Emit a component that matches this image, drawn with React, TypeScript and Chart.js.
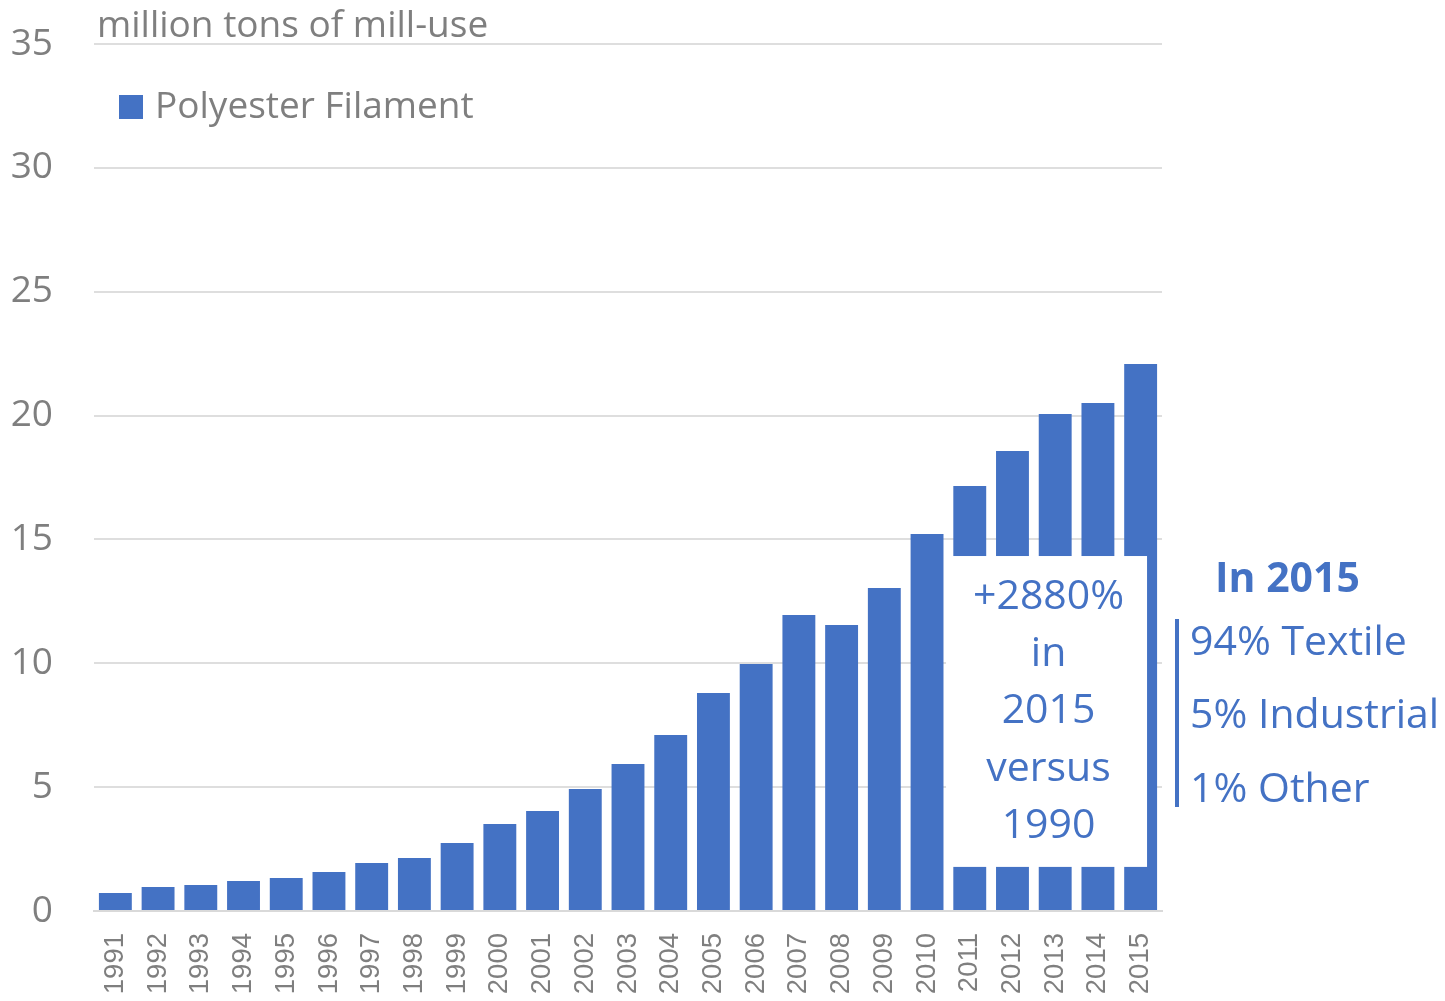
import React, { useEffect, useRef } from "react";
import { Chart, registerables } from "chart.js";

Chart.register(...registerables);

const years = [
  "1991", "1992", "1993", "1994", "1995", "1996", "1997", "1998", "1999", "2000",
  "2001", "2002", "2003", "2004", "2005", "2006", "2007", "2008", "2009", "2010",
  "2011", "2012", "2013", "2014", "2015",
];
const filamentValues = [
  0.73, 0.97, 1.05, 1.21, 1.33, 1.57, 1.94, 2.14, 2.75, 3.51,
  4.04, 4.93, 5.93, 7.1, 8.8, 9.97, 11.95, 11.55, 13.04, 15.22,
  17.16, 18.57, 20.06, 20.51, 22.08,
];
const yTickValues = [0, 5, 10, 15, 20, 25, 30, 35];
const seriesName = "Polyester Filament";
const unitLabel = "million tons of mill-use";
const boxLines = ["+2880%", "in", "2015", "versus", "1990"];
const sideTitle = "In 2015";
const sideLines = ["94% Textile", "5% Industrial", "1% Other"];
// callout box extent in axis units (category index / value)
const boxXFrom = 19.445;
const boxXTo = 24.15;
const boxYFrom = 1.78;
const boxYTo = 14.33;

const BLUE = "#4472c4";
const GRAY = "#7f7f7f";
const FONT = "'Open Sans', sans-serif";

const overlayPlugin = {
  id: "overlay",
  afterDatasetsDraw(chart: any) {
    const { ctx, chartArea, scales } = chart;
    const xs = scales.x;
    const ys = scales.y;
    const left = xs.getPixelForValue(boxXFrom);
    const right = xs.getPixelForValue(boxXTo);
    const top = ys.getPixelForValue(boxYTo);
    const bottom = ys.getPixelForValue(boxYFrom);
    ctx.save();
    ctx.fillStyle = "#ffffff";
    ctx.fillRect(left, top, right - left, bottom - top);
    ctx.fillStyle = BLUE;
    ctx.font = `41px ${FONT}`;
    ctx.textAlign = "center";
    ctx.textBaseline = "middle";
    const cx = (left + right) / 2 + 2;
    boxLines.forEach((t, i) => {
      ctx.fillText(t, cx, top + 41 + i * 57.3);
    });

    // side annotation
    const ax = chartArea.right;
    ctx.textAlign = "left";
    ctx.font = `bold 41px ${FONT}`;
    ctx.fillText(sideTitle, ax + 53, 580);
    ctx.font = `41px ${FONT}`;
    const ly = [643, 716, 790];
    sideLines.forEach((t, i) => ctx.fillText(t, ax + 28, ly[i]));
    ctx.strokeStyle = BLUE;
    ctx.lineWidth = 4;
    ctx.beginPath();
    ctx.moveTo(ax + 15, 619);
    ctx.lineTo(ax + 15, 807);
    ctx.stroke();

    // unit label
    ctx.fillStyle = GRAY;
    ctx.font = `37px ${FONT}`;
    ctx.textBaseline = "alphabetic";
    ctx.fillText(unitLabel, chartArea.left + 3, chartArea.top - 7);

    // legend
    ctx.fillStyle = BLUE;
    ctx.fillRect(chartArea.left + 25, 95, 24, 24);
    ctx.fillStyle = GRAY;
    ctx.textBaseline = "middle";
    ctx.fillText(seriesName, chartArea.left + 61, 107);
    ctx.restore();
  },
};

export default function App() {
  const ref = useRef<HTMLCanvasElement | null>(null);
  useEffect(() => {
    if (!ref.current) return;
    const chart = new Chart(ref.current, {
      type: "bar",
      data: {
        labels: years,
        datasets: [
          {
            label: seriesName,
            data: filamentValues,
            backgroundColor: BLUE,
            barPercentage: 0.77,
            categoryPercentage: 1,
          },
        ],
      },
      options: {
        responsive: false,
        animation: false,
        devicePixelRatio: 1,
        layout: { padding: { left: 0, right: 283, top: 44, bottom: 0 } },
        plugins: {
          legend: { display: false },
          tooltip: { enabled: false },
        },
        scales: {
          x: {
            grid: { display: false, drawTicks: false },
            border: { display: true, color: "#d9d9d9", width: 2 },
            ticks: {
              color: GRAY,
              font: { family: "'Liberation Sans', Arial, sans-serif", size: 27.5 },
              minRotation: 90,
              maxRotation: 90,
              autoSkip: false,
              padding: 22,
            },
            afterFit(scale: any) {
              scale.height = 90;
              scale.paddingLeft = 0;
              scale.paddingRight = 0;
            },
          },
          y: {
            min: 0,
            max: 35,
            afterBuildTicks(scale: any) {
              scale.ticks = yTickValues.map((v) => ({ value: v }));
            },
            grid: { color: "#dedede", lineWidth: 2, drawTicks: false },
            border: { display: false },
            ticks: {
              color: GRAY,
              font: { family: FONT, size: 37 },
              padding: 41,
            },
            afterFit(scale: any) {
              scale.width = 94;
              scale.paddingTop = 0;
              scale.paddingBottom = 0;
            },
          },
        },
      },
      plugins: [overlayPlugin],
    });
    return () => chart.destroy();
  }, []);
  return (
    <div style={{ position: "absolute", left: 0, top: 0, width: 1445, height: 1001, background: "#fff" }}>
      <canvas ref={ref} width={1445} height={1001} />
    </div>
  );
}
